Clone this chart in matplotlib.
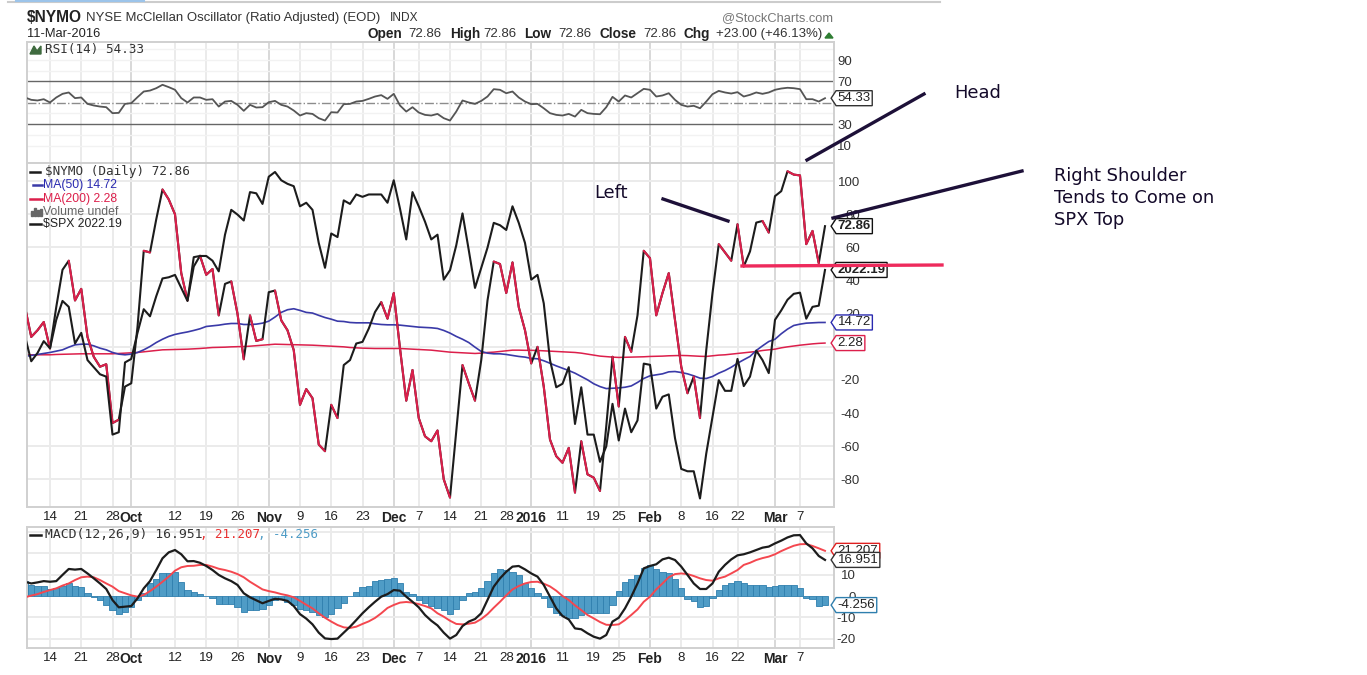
import matplotlib
matplotlib.use("Agg")
import matplotlib.pyplot as plt
from matplotlib.lines import Line2D
from matplotlib.patches import Polygon, Rectangle
from matplotlib.path import Path

plt.rcParams['axes.unicode_minus'] = False

W, H = 1367, 675

# tick labels, positions are trading day numbers counted from 8-Sep-2015
tick_days = [4, 9, 14, 17, 24, 29, 34, 39, 44, 49, 54, 59, 63, 68, 73, 77, 81, 86, 91, 95, 100, 105, 110, 114, 120, 124]
tick_labels = ['14', '21', '28', 'Oct', '12', '19', '26', 'Nov', '9', '16', '23', 'Dec', '7', '14', '21', '28',
               '2016', '11', '19', '25', 'Feb', '8', '16', '22', 'Mar', '7']
bold_labels = ['Oct', 'Nov', 'Dec', '2016', 'Feb', 'Mar']

rsi = [55, 52.8, 52.2, 53.4, 50.3, 55, 58.4, 59.7, 54.4, 55,
       49, 47.5, 46.5, 45.9, 40.3, 40.6, 49, 49.7, 55.3, 60.6,
       61.5, 63.7, 66.9, 64.7, 62.2, 54.4, 50.3, 55, 55, 52.8,
       53.4, 46.5, 51.2, 51.8, 48.1, 42.5, 48.1, 45.6, 45.9, 50.6,
       51.8, 48.1, 46.5, 42.8, 38.1, 40.3, 39.6, 35.6, 33.4, 41.2,
       40.9, 48.7, 49, 51.2, 51.8, 53.7, 55.9, 57.2, 53.7, 58.4,
       47.5, 41.8, 45.9, 40.9, 38.7, 38.1, 39.6, 35.6, 33.4, 41.8,
       52.2, 50.3, 49, 51.8, 55.9, 62.8, 62.2, 59, 60.6, 55,
       51.2, 48.7, 49, 44.9, 40.3, 38.7, 38.1, 39.6, 37.1, 43.4,
       40.3, 39.6, 39.3, 45.9, 55.6, 51.2, 56.9, 55, 59, 63.1,
       62.2, 55.9, 56.9, 59, 52.8, 48.1, 46.5, 47.2, 44.9, 51.2,
       58.1, 61.2, 59.7, 58.7, 60, 55.9, 57.5, 59.7, 58.4, 59.7,
       62.2, 63.4, 64.1, 63.7, 62.8, 53.4, 53.4, 51.2, 54.33]

nymo = [24, 6, 10, 15, -1, 24, 46.5, 52, 28, 35,
        6, -6, -12, -10.5, -46, -44, -24, -22, 12, 58,
        57, 77, 95, 89, 80, 44.5, 28, 48.5, 55, 43.5,
        47, 19, 38, 39.5, 20, -7.5, 19, 3.6, 4.6, 33,
        34, 16, 10, -2, -35, -25.5, -31, -59, -63, -35,
        -43, -11, -8, 2, 3, 11, 21, 27, 17, 32.5,
        -1, -32.5, -14, -43, -54, -57, -50.5, -80, -91, -51,
        -11, -22, -32.5, -8, 28, 51.5, 50, 32.5, 51, 24,
        10, -10, 0, -24, -56, -66, -70, -61, -88, -57,
        -77, -79, -87, -48, -6, -36, 6, -3, 19, 58,
        53.5, 19, 32.5, 44.5, 16, -12, -28, -18, -43, -2,
        32.5, 62, 57, 52, 74, 48.5, 57.6, 75, 76, 69,
        91, 94, 106, 104, 103.5, 62, 70, 50.5, 72.86]

# stretches of days where the NYMO line is coloured red
nymo_red_spans = [(0, 4), (7, 15), (19, 20), (22, 26), (28, 31), (33, 35), (36, 38), (40, 48), (49, 50),
                  (57, 68), (70, 72), (75, 81), (82, 88), (89, 92), (94, 95), (96, 97), (99, 106),
                  (107, 108), (111, 113), (114, 115), (118, 119), (122, 127)]

spx = [1966, 1945, 1952, 1962, 1956, 1980, 1996, 1991, 1960, 1969,
       1946, 1940, 1934, 1932, 1883, 1885, 1944, 1947, 1969, 1989,
       1983, 2000, 2015, 2016, 2018, 2007, 1996, 2033, 2034, 2034,
       2030, 2021, 2052, 2073, 2069, 2064, 2088, 2087, 2078, 2101,
       2105, 2098, 2095, 2093, 2076, 2079, 2073, 2045, 2024, 2053,
       2050, 2081, 2078, 2086, 2084, 2086, 2086, 2086, 2079, 2098,
       2074, 2048, 2088, 2076, 2063, 2048, 2052, 2014, 2022, 2043,
       2070, 2039, 2007, 2024, 2041, 2062, 2060, 2056, 2076, 2062,
       2045, 2014, 2018, 1994, 1946, 1923, 1926, 1940, 1892, 1923,
       1883, 1883, 1860, 1873, 1909, 1878, 1905, 1885, 1895, 1943,
       1942, 1905, 1915, 1917, 1880, 1854, 1852, 1852, 1829, 1867,
       1898, 1929, 1920, 1920, 1947, 1924, 1932, 1954, 1946, 1935,
       1980, 1988, 1997, 2002, 2003, 1981, 1991, 1992, 2022.19]

ma50 = [-5.8, -5.2, -4.6, -4, -3.4, -2.6, -1.8, -.2, 1.2, 1.6,
        1.6, .6, -.8, -1.8, -3.4, -4.4, -4.8, -4.4, -3.4, -1.8,
        .2, 2.6, 4.6, 6.3, 7.5, 8.3, 9, 9.9, 10.9, 12.3,
        12.7, 13.1, 13.7, 14.1, 14.1, 13.5, 13.5, 13.7, 14.3, 15.5,
        18, 20.8, 22.4, 23, 22, 20.8, 20.4, 19, 17.7, 16.7,
        15.5, 15.3, 14.7, 14.5, 14.5, 14.5, 13.9, 13.5, 13.3, 13.3,
        13.1, 12.7, 12.3, 11.9, 11.7, 11.5, 11.1, 9.9, 8.3, 6.3,
        4.6, 2.6, -.2, -2.8, -3.8, -4.2, -4.2, -4.6, -5.2, -5.8,
        -6.2, -7, -7.2, -8.4, -9.9, -11.5, -12.9, -14.3, -15.9, -17.9,
        -19.9, -22.3, -24, -25.2, -25, -24.8, -24.4, -23.6, -21.5, -19.1,
        -17.5, -16.9, -16.3, -15.1, -14.9, -15.5, -16.3, -17.5, -18.9, -19.1,
        -17.9, -15.9, -14.3, -12.3, -9.9, -7.8, -5.8, -2.2, .6, 3.2,
        4.6, 7.9, 10.7, 12.9, 13.7, 14.3, 14.5, 14.7, 14.72]

ma200 = [-4.8, -4.8, -4.8, -4.8, -4.8, -4.6, -4.5, -4.4, -4.3, -4.2,
         -4.2, -4.2, -4.2, -4.2, -4.2, -4, -3.8, -3.6, -3.4, -3,
         -2.6, -2.2, -1.8, -1.7, -1.6, -1.5, -1.4, -1.2, -1, -.7,
         -.4, -.3, -.2, 0, .1, .2, .4, .7, 1, 1.3,
         1.6, 1.5, 1.4, 1.3, 1.2, 1.1, 1, .8, .6, .4,
         .2, 0, -.4, -.6, -.8, -.9, -1, -1, -1, -1,
         -1, -1.2, -1.4, -1.6, -1.8, -2, -2.4, -2.8, -3.2, -3.4,
         -3.6, -3.8, -4, -3.8, -3.4, -3.2, -2.8, -2.4, -2, -2,
         -2.1, -2.1, -2.2, -2.4, -2.6, -2.8, -3, -3.2, -3.4, -3.8,
         -4.4, -5, -5.6, -5.9, -6.2, -6.4, -6.3, -6.2, -6.1, -6,
         -5.8, -5.7, -5.6, -5.4, -5.3, -5.2, -5.3, -5.5, -5.7, -5.8,
         -5.4, -5, -4.8, -4.4, -4, -3.6, -3.2, -2.8, -2.2, -1.8,
         -1.4, -.6, 0, .5, 1, 1.4, 1.8, 2.1, 2.28]

macd = [6.7, 5.9, 6.4, 7, 6.7, 7, 9.9, 12.7, 12.4, 12.7,
        10.6, 8.3, 5.9, 3.3, -1.9, -5.3, -5, -4.7, -1.1, 3.6,
        7, 12.2, 17.7, 20.5, 21.6, 19.6, 16.3, 16.4, 15.6, 14.1,
        12.2, 9.9, 8.3, 7, 5.2, 1.3, -.6, -2, -3.4, -2.3,
        -1.3, -1.6, -2.3, -4.7, -8.5, -10.6, -13.3, -17.2, -19.9, -20.2,
        -20, -17.2, -14.4, -11.3, -8.1, -5.3, -2.7, -.3, .9, 2.8,
        2.5, -.3, -2.7, -5.3, -8.9, -11.6, -13.8, -17.2, -20, -18.3,
        -14.1, -12, -10.8, -8.1, -1.9, 4.4, 8.3, 11.4, 13.8, 14.1,
        12.5, 10.6, 9.1, 5.2, -.3, -5.8, -9.4, -11, -15.2, -15.6,
        -17.5, -19.1, -20, -18.3, -12, -10.2, -5.8, -.3, 5.9, 13,
        14.1, 14.9, 17.2, 18, 16.9, 13.8, 9.9, 5.9, 3.3, 3.3,
        5.9, 11.4, 14.6, 17.2, 19.1, 19.6, 20.5, 21.6, 22.7, 23.2,
        24.7, 26, 27.5, 28.5, 28.6, 24.7, 22.4, 18.8, 16.951]

macd_signal = [-.6, .2, .9, 1.9, 2.8, 3.6, 4.9, 5.9, 7.5, 8.8,
               9.1, 8.8, 7.5, 5.9, 4.4, 2.3, 1.3, .3, -.3, .5,
               2.3, 4.4, 6.7, 9.1, 11.9, 13.5, 14.1, 14.2, 14.6, 14.6,
               13.8, 12.8, 12.2, 11.4, 10.3, 8.8, 6.7, 4.9, 3.1, 2.3,
               1.7, .9, .3, -.6, -2.3, -4.1, -5.8, -8.1, -10.2, -12,
               -13.6, -14.7, -15, -14.4, -13.1, -11.9, -10.3, -8.1, -5.6, -4.2,
               -3.1, -2.8, -3.1, -3.8, -4.7, -5.8, -8.1, -9.7, -11.6, -13.1,
               -13.3, -13, -12.5, -10.8, -8.5, -5.5, -2.7, .3, 3.1, 4.7,
               5.9, 6.6, 6.7, 5.8, 4.5, 2.5, 0, -1.9, -4.4, -6.6,
               -8.9, -10.5, -12.2, -13.5, -13.6, -13.3, -11.3, -8.9, -6.3, -2.7,
               -.3, 3.1, 5.9, 8.8, 10.3, 10.6, 10.3, 9.4, 8.3, 7.5,
               7.2, 8.3, 9.1, 10.6, 12.2, 14.6, 15.6, 16.9, 17.8, 18.5,
               19.6, 21.1, 22.4, 23.6, 24.3, 24.4, 23.5, 22.4, 21.207]

macd_hist = [7, 5.2, 4.9, 4.7, 3.3, 3.6, 4.9, 5.9, 4.7, 4.1,
             1.3, -.3, -1.9, -4.2, -6.6, -8.6, -7.4, -5.3, -1.9, 1.6,
             5.9, 8, 10.6, 11, 11.4, 6.7, 2.8, 2, .9, -.2,
             -.8, -3.9, -3.9, -3.9, -5.3, -7.4, -6.6, -6.6, -6.3, -4.2,
             -1.9, -1.6, -2.7, -4.2, -6.3, -6.6, -7.7, -8.9, -9.7, -8.5,
             -5.8, -3.4, -.2, 2, 4.4, 4.9, 7, 7.5, 7.8, 8.3,
             5.9, 1.7, .9, -1.9, -3.4, -4.7, -5.5, -6.6, -8.6, -6.1,
             -1.9, 1.3, 1.7, 3.6, 7, 10.6, 12.5, 12.2, 11.4, 9.9,
             5.9, 3.6, 1.6, -1.1, -5, -7.8, -8.9, -10.5, -10.5, -8.9,
             -8.1, -8.1, -7.8, -7.8, -4.2, 2.3, 6.7, 7.8, 9.9, 13.3,
             14.6, 12.5, 11.4, 10.6, 7.8, 3.6, -1.3, -2.3, -5, -4.5,
             -1.1, 2.8, 5.2, 6.3, 7, 5.9, 5.2, 5.2, 5.2, 4.4,
             4.7, 5.2, 5.2, 5.2, 3.9, -.8, -1.6, -4.5, -4.256]

days = list(range(len(nymo)))

BLACK = '#1c1c1c'
RED = '#dc1f4b'
BLUE = '#3a3aa8'
GRID = '#ebebeb'
SANS = 'Liberation Sans'
MONO = 'DejaVu Sans Mono'
XLIM = ((27 - 25) / 6.25, (834 - 25) / 6.25)

fig = plt.figure(figsize=(W / 100, H / 100), dpi=100)


def fx(x):
    return x / W


def fy(y):
    return 1 - y / H


def put(x, y, s, **kw):
    # text placed by picture pixels
    kw.setdefault('family', SANS)
    kw.setdefault('va', 'center')
    return fig.text(fx(x), fy(y), s, **kw)


def style_right_labels(ax, label_right):
    ax.yaxis.tick_right()
    ax.tick_params(axis='y', length=0, labelsize=9.5, labelcolor='#333333',
                   pad=(label_right - 834) * 0.72)
    for t in ax.get_yticklabels():
        t.set_ha('right')
        t.set_family(SANS)


def panel(top, bottom, ylim, yticks, label_right):
    ax = fig.add_axes([fx(27), fy(bottom), (834 - 27) / W, (bottom - top) / H])
    ax.set_xlim(*XLIM)
    ax.set_ylim(*ylim)
    ax.set_facecolor('white')
    for s in ax.spines.values():
        s.set_color('#d0d0d0')
        s.set_linewidth(1.4)
    for d, lab in zip(tick_days, tick_labels):
        ax.axvline(d, color='#d8d8d8' if lab in bold_labels else GRID, lw=1.4, zorder=0)
    ax.set_yticks(yticks)
    style_right_labels(ax, label_right)
    ax.set_xticks([])
    return ax


def date_ticks(ax):
    ax.set_xticks(tick_days)
    ax.set_xticklabels(tick_labels, family=SANS, fontsize=9.5, color='#222222')
    ax.tick_params(axis='x', length=0, pad=3)
    for t in ax.get_xticklabels():
        if t.get_text() in bold_labels:
            t.set_fontweight('bold')
            t.set_fontsize(10)


def tag_shape(x0, y0, width, height, mutation_size):
    # value tag, a box with a small point on its left side
    pad = 1.5
    x1, y1 = x0 + width + pad, y0 + height + pad
    x0, y0 = x0 - pad, y0 - pad
    mid = (y0 + y1) / 2
    verts = [(x0 - 5, mid), (x0, y1), (x1, y1), (x1, y0), (x0, y0), (x0 - 5, mid)]
    return Path(verts, [Path.MOVETO] + [Path.LINETO] * 4 + [Path.CLOSEPOLY])


def tag(ax, value, text, color, bold=False):
    ax.annotate(text, xy=(1, value), xycoords=ax.get_yaxis_transform(), xytext=(2.6, 0),
                textcoords='offset points', va='center', ha='left', family=SANS, fontsize=9.5,
                fontweight='bold' if bold else 'normal', color='#222222', annotation_clip=False,
                zorder=6, bbox=dict(boxstyle=tag_shape, fc='white', ec=color, lw=1))


# RSI panel
ax_rsi = panel(42, 163, (-6.4, 107), [10, 30, 70, 90], 852)
for v in [10, 20, 40, 60, 80, 90, 100]:
    ax_rsi.axhline(v, color='#f2f2f2', lw=1, zorder=0)
ax_rsi.axhline(70, color='#666666', lw=1, zorder=1)
ax_rsi.axhline(30, color='#666666', lw=1, zorder=1)
ax_rsi.axhline(50, color='#8c8c8c', lw=1, ls='-.', zorder=1)
ax_rsi.plot(days, rsi, color='#555555', lw=1.3, zorder=3)
tag(ax_rsi, rsi[-1], '54.33', '#333333')

# main panel, NYMO with SPX overlaid on its own hidden scale
ax_main = panel(163, 507, (-96.7, 111), list(range(-80, 101, 20)), 860)
for v in range(-80, 101, 20):
    ax_main.axhline(v, color=GRID, lw=1.4, zorder=0)
ax_main.plot(days, ma200, color=RED, lw=1.1, zorder=2)
ax_main.plot(days, ma50, color=BLUE, lw=1.2, zorder=2)
ax_main.plot(days, nymo, color=BLACK, lw=1.5, zorder=3)
for a, b in nymo_red_spans:
    ax_main.plot(days[a:b + 1], nymo[a:b + 1], color=RED, lw=1.5, zorder=3.5,
                 solid_capstyle='round')
date_ticks(ax_main)

ax_spx = ax_main.twinx()
ax_spx.set_ylim(1821.8, 2112.6)
ax_spx.set_xlim(*XLIM)
ax_spx.set_yticks([])
for s in ax_spx.spines.values():
    s.set_visible(False)
ax_spx.plot(days, spx, color=BLACK, lw=1.5, zorder=4)
# twinx moved the main labels over to the left
style_right_labels(ax_main, 860)
tag(ax_spx, spx[-1], '2022.19', '#111111', bold=True)
tag(ax_main, nymo[-1], '72.86', '#111111', bold=True)
tag(ax_main, ma50[-1], '14.72', '#2a2ab0')
tag(ax_main, ma200[-1], '2.28', RED)

# MACD panel
ax_macd = panel(527, 648, (-24.4, 32.4), [-20, -10, 0, 10], 856)
for v in [-20, -10, 10, 20, 30]:
    ax_macd.axhline(v, color=GRID, lw=1.4, zorder=0)
ax_macd.bar(days, macd_hist, width=1.0, color='#4f9cc6', edgecolor='#2f7fae', lw=0.6, zorder=2)
ax_macd.plot(days, macd_signal, color='#f4474f', lw=1.4, zorder=3)
ax_macd.plot(days, macd, color=BLACK, lw=1.6, zorder=4)
date_ticks(ax_macd)
tag(ax_macd, macd_signal[-1], '21.207', '#e02020')
tag(ax_macd, macd[-1], '16.951', '#333333')
tag(ax_macd, macd_hist[-1], '-4.256', '#2f7fae')

# header
put(27, 17, '$NYMO', fontsize=11.2, fontweight='bold', color='#222222')
put(86, 18, 'NYSE McClellan Oscillator (Ratio Adjusted) (EOD)', fontsize=9.45, color='#333333')
put(390, 18, 'INDX', fontsize=8.6, color='#333333')
put(27, 34, '11-Mar-2016', fontsize=9.3, color='#222222')
put(722, 18, '@StockCharts.com', fontsize=9.3, color='#777777')
header = [(368, 'Open', 408, '72.86'), (450, 'High', 483, '72.86'), (524, 'Low', 558, '72.86'),
          (599, 'Close', 643, '72.86'), (684, 'Chg', 716, '+23.00 (+46.13%)')]
for x1, name, x2, val in header:
    put(x1, 34, name, fontsize=9.8, fontweight='bold', color='#222222')
    put(x2, 34, val, fontsize=9.5, color='#333333')
fig.add_artist(Polygon([[fx(825), fy(38)], [fx(833), fy(38)], [fx(829), fy(33)]],
                       transform=fig.transFigure, color='#2e7d32'))

# legends inside the panels
put(45, 50, 'RSI(14) 54.33', family=MONO, fontsize=9.1, color='#333333')
fig.add_artist(Polygon([[fx(30), fy(54)], [fx(34), fy(46)], [fx(37), fy(51)], [fx(41), fy(46)], [fx(41), fy(54)]],
                       transform=fig.transFigure, color='#3f6b3f'))
put(45, 172, '$NYMO (Daily) 72.86', family=MONO, fontsize=9.1, color='#333333')
put(43, 185, 'MA(50) 14.72', fontsize=8.8, color='#2a2ab0')
put(43, 199, 'MA(200) 2.28', fontsize=8.8, color=RED)
put(43, 212, 'Volume undef', fontsize=8.8, color='#666666')
put(43, 224, '$SPX 2022.19', fontsize=8.8, color='#222222')
put(45, 535, 'MACD(12,26,9) 16.951', family=MONO, fontsize=9.45, color='#333333')
put(200, 535, ', 21.207', family=MONO, fontsize=9, color='#e83030')
put(258, 535, ', -4.256', family=MONO, fontsize=9, color='#4f9cc6')
swatches = [(30, 40, 172, BLACK), (33, 42, 185, BLUE), (30, 42, 199, RED), (30, 41, 224, BLACK), (30, 41, 535, BLACK)]
for x1, x2, y, c in swatches:
    fig.add_artist(Line2D([fx(x1), fx(x2)], [fy(y), fy(y)], color=c, lw=1.8, zorder=8))
for x, h in [(31, 5), (34, 8), (37, 6), (40, 7)]:
    fig.add_artist(Rectangle((fx(x), fy(216)), 2.4 / W, h / H, transform=fig.transFigure,
                             color='#666666', zorder=8))

# hand drawn notes on top of the chart
INK = '#1d1038'
notes = [((807, 160), (924, 94), INK), ((663, 199), (728, 221), INK), ((833, 218), (1022, 171), INK),
         ((742, 266), (942, 265), '#ee2a5c')]
for p, q, c in notes:
    fig.add_artist(Line2D([fx(p[0]), fx(q[0])], [fy(p[1]), fy(q[1])], color=c, lw=2.4, zorder=10))
note_text = [(954, 93, 'Head'), (594, 193, 'Left'), (1054, 176, 'Right Shoulder'),
             (1054, 198, 'Tends to Come on'), (1054, 220, 'SPX Top')]
for x, y, s in note_text:
    put(x, y, s, family='DejaVu Sans', fontsize=12.9, color='#140a2a', zorder=10)

# scrap of the browser window above the chart
fig.add_artist(Line2D([fx(8), fx(940)], [fy(2), fy(2)], color='#cccccc', lw=1.5))
fig.add_artist(Line2D([fx(16), fx(144)], [fy(0.5), fy(0.5)], color='#9cc4ea', lw=1.5))

fig.savefig('out.png', dpi=100, facecolor='white')
